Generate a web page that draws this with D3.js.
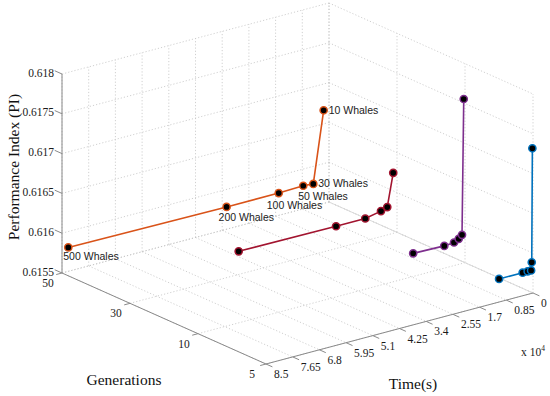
<!DOCTYPE html>
<html>
<head>
<meta charset="utf-8">
<script src="https://cdn.jsdelivr.net/npm/d3@7"></script>
<style>
  body { margin: 0; background: #fff; }
  svg { display: block; }
</style>
</head>
<body>
<div id="chart"></div>
<script>
// data
var whales = [500, 200, 100, 50, 30, 10];
var generationTicks = [50, 30, 10, 5];
var timeTicks = [8.5, 7.65, 6.8, 5.95, 5.1, 4.25, 3.4, 2.55, 1.7, 0.85, 0];   // x 10^4 s
var piTicks = [0.6155, 0.616, 0.6165, 0.617, 0.6175, 0.618];

var timeG50 = [8.30, 3.26, 1.60, 0.82, 0.50, 0.17];
var piG50 = [0.61580, 0.61578, 0.61578, 0.61579, 0.61578, 0.61667];
var timeG30 = [5.04, 1.94, 1.01, 0.51, 0.31, 0.12];
var piG30 = [0.61579, 0.61578, 0.61578, 0.61582, 0.61585, 0.61626];
var timeG10 = [1.65, 0.66, 0.35, 0.20, 0.095, 0.04];
var piG10 = [0.61579, 0.61578, 0.61579, 0.61582, 0.61586, 0.61756];
var timeG5 = [1.08, 0.33, 0.17, 0.06, 0.04, 0.02];
var piG5 = [0.61579, 0.61579, 0.61579, 0.61579, 0.61589, 0.61732];

var series = [
  { gen: 50, time: timeG50, pi: piG50, color: "#D95319" },
  { gen: 30, time: timeG30, pi: piG30, color: "#A2142F" },
  { gen: 10, time: timeG10, pi: piG10, color: "#7E2F8E" },
  { gen: 5,  time: timeG5,  pi: piG5,  color: "#0072BD" }
];

// label offsets for the "N Whales" text (orange series)
var labelOffset = { 500: [-5, 9], 200: [-8, 10], 100: [-12, 12], 50: [-5, 11], 30: [5, -1], 10: [5, 0] };

var w = 550, h = 396;

// orthographic box projection
var origin = [266, 364];      // gen = 5, time = 8.5, pi = min
var genVec = [-204, -91];
var timeVec = [267, -71];
var zLen = 199;

var gScale = d3.scalePoint().domain(generationTicks.slice().sort(d3.ascending)).range([0, 1]);
var tScale = d3.scaleLinear().domain([8.5, 0]).range([0, 1]);
var zScale = d3.scaleLinear().domain([0.6155, 0.618]).range([0, 1]);

function proj(g, t, z) {
  var a = gScale(g), b = tScale(t), c = zScale(z);
  return [origin[0] + a * genVec[0] + b * timeVec[0],
          origin[1] + a * genVec[1] + b * timeVec[1] - c * zLen];
}

var svg = d3.select("#chart").append("svg")
  .attr("width", w)
  .attr("height", h);

var zMin = piTicks[0], zMax = piTicks[piTicks.length - 1];
var gBack = 50, gFront = 5, tBack = 0, tFront = 8.5;

var line = d3.line();
var grid = svg.append("g")
  .attr("fill", "none")
  .attr("stroke", "#c4c4c4")
  .attr("stroke-width", 0.8)
  .attr("stroke-dasharray", "1.2,2");

function seg(g, p, q) {
  g.append("path").attr("d", line([p, q]));
}

// floor grid
timeTicks.forEach(function(t) { seg(grid, proj(gBack, t, zMin), proj(gFront, t, zMin)); });
generationTicks.forEach(function(g) { seg(grid, proj(g, tFront, zMin), proj(g, tBack, zMin)); });
// left back wall (gen = 50)
timeTicks.forEach(function(t) { seg(grid, proj(gBack, t, zMin), proj(gBack, t, zMax)); });
piTicks.forEach(function(z) { seg(grid, proj(gBack, tFront, z), proj(gBack, tBack, z)); });
// right back wall (time = 0)
generationTicks.forEach(function(g) { seg(grid, proj(g, tBack, zMin), proj(g, tBack, zMax)); });
piTicks.forEach(function(z) { seg(grid, proj(gBack, tBack, z), proj(gFront, tBack, z)); });

// floor back edge
svg.append("path")
  .attr("d", line([proj(gBack, tBack, zMin), proj(gFront, tBack, zMin)]))
  .attr("stroke", "#dadada")
  .attr("fill", "none");

// axes
var axes = svg.append("g").attr("stroke", "#8a8a8a").attr("stroke-width", 1).attr("fill", "none");
seg(axes, proj(gBack, tFront, zMin), proj(gBack, tFront, zMax));
seg(axes, proj(gBack, tFront, zMin), proj(gFront, tFront, zMin));
seg(axes, proj(gFront, tFront, zMin), proj(gFront, tBack, zMin));

function unit(v, len) {
  var n = Math.sqrt(v[0] * v[0] + v[1] * v[1]);
  return [v[0] / n * len, v[1] / n * len];
}
var zTickDir = unit(genVec, 8);
var gTickDir = unit([-timeVec[0], -timeVec[1]], 6);
var tTickDir = unit([-genVec[0], -genVec[1]], 7);

var tickText = svg.append("g")
  .attr("font-family", "'Liberation Serif', 'Times New Roman', serif")
  .attr("font-size", "11.5px")
  .attr("fill", "#1a1a1a");

piTicks.forEach(function(z) {
  var p = proj(gBack, tFront, z);
  seg(axes, p, [p[0] + zTickDir[0], p[1] + zTickDir[1]]);
  tickText.append("text")
    .attr("x", p[0] - 8)
    .attr("y", p[1] - 1.5)
    .attr("dy", "0.35em")
    .attr("text-anchor", "end")
    .text(z);
});

generationTicks.forEach(function(g) {
  var p = proj(g, tFront, zMin);
  seg(axes, p, [p[0] + gTickDir[0], p[1] + gTickDir[1]]);
  tickText.append("text")
    .attr("x", p[0] - 14)
    .attr("y", p[1] + 10)
    .attr("dy", "0.35em")
    .attr("text-anchor", "middle")
    .text(g);
});

timeTicks.forEach(function(t) {
  var p = proj(gFront, t, zMin);
  seg(axes, p, [p[0] + tTickDir[0], p[1] + tTickDir[1]]);
  tickText.append("text")
    .attr("x", p[0] + 8)
    .attr("y", p[1] + 10)
    .attr("dy", "0.35em")
    .attr("text-anchor", "start")
    .text(t);
});

// exponent label
var expo = tickText.append("text").attr("x", 521).attr("y", 356);
expo.append("tspan").text("x 10");
expo.append("tspan").attr("dy", -5).attr("font-size", "7.5px").text("4");

// axis titles
var titles = svg.append("g")
  .attr("font-family", "'Liberation Serif', 'Times New Roman', serif")
  .attr("font-size", "15.5px")
  .attr("fill", "#111")
  .attr("text-anchor", "middle");
titles.append("text").attr("x", 124).attr("y", 385).text("Generations");
titles.append("text").attr("x", 413).attr("y", 389).text("Time(s)");
titles.append("text")
  .attr("transform", "translate(19,167) rotate(-90)")
  .text("Performance Index (PI)");

// series
series.forEach(function(s) {
  var pts = s.time.map(function(t, i) { return proj(s.gen, t, s.pi[i]); });
  svg.append("path")
    .attr("d", line(pts))
    .attr("fill", "none")
    .attr("stroke", s.color)
    .attr("stroke-width", 1.6);
  svg.append("g").selectAll("circle")
    .data(pts)
    .enter().append("circle")
    .attr("cx", function(d) { return d[0]; })
    .attr("cy", function(d) { return d[1]; })
    .attr("r", 3.6)
    .attr("fill", "#000")
    .attr("stroke", s.color)
    .attr("stroke-width", 1.5);
});

// whale labels on the 50-generation series
var lab = svg.append("g")
  .attr("font-family", "'Liberation Sans', Arial, sans-serif")
  .attr("font-size", "10.5px")
  .attr("fill", "#222");
whales.forEach(function(n, i) {
  var p = proj(50, timeG50[i], piG50[i]);
  var o = labelOffset[n];
  lab.append("text")
    .attr("x", p[0] + o[0])
    .attr("y", p[1] + o[1])
    .attr("dy", "0.35em")
    .text(n + " Whales");
});
</script>
</body>
</html>
